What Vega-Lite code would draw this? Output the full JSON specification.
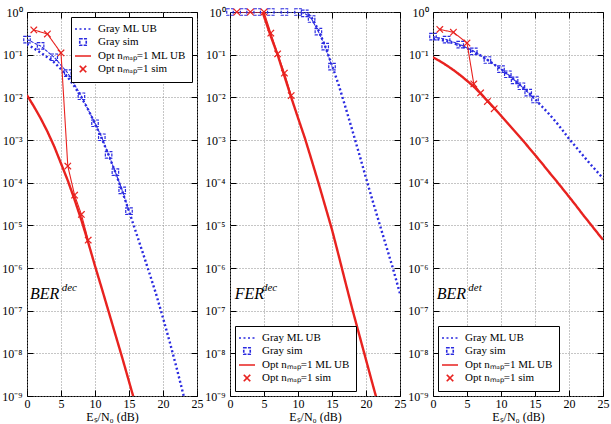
{
  "$schema": "https://vega.github.io/schema/vega-lite/v6.json",
  "padding": {"left": 1, "top": 5, "right": 0, "bottom": 0},
  "autosize": {"type": "pad"},
  "config": {
    "font": "Liberation Serif",
    "view": {"stroke": "black", "strokeWidth": 1},
    "axis": {"tickColor": "black", "labelColor": "black", "titleColor": "black", "titleFontWeight": "normal", "labelFlush": false, "labelOverlap": false, "domain": false},
    "legend": {"padding": 6, "strokeColor": "black", "fillColor": "white", "cornerRadius": 0, "labelColor": "black", "labelLimit": 200,
      "symbolFillColor": "transparent", "symbolSize": 100, "symbolStrokeWidth": 1.6, "labelOffset": 9, "rowPadding": 1, "offset": 5}
  },
  "datasets": {
    "p1": [
      {"series": "Gray ML UB", "x": 0, "y": 0.178}, {"series": "Gray ML UB", "x": 1, "y": 0.141}, {"series": "Gray ML UB", "x": 2, "y": 0.112},
      {"series": "Gray ML UB", "x": 3, "y": 0.0871}, {"series": "Gray ML UB", "x": 4, "y": 0.0661}, {"series": "Gray ML UB", "x": 5, "y": 0.0457},
      {"series": "Gray ML UB", "x": 6, "y": 0.0295}, {"series": "Gray ML UB", "x": 7, "y": 0.0178}, {"series": "Gray ML UB", "x": 8, "y": 0.01},
      {"series": "Gray ML UB", "x": 9, "y": 0.00513}, {"series": "Gray ML UB", "x": 10, "y": 0.0024}, {"series": "Gray ML UB", "x": 11, "y": 0.00107},
      {"series": "Gray ML UB", "x": 12, "y": 4.47e-4}, {"series": "Gray ML UB", "x": 13, "y": 1.74e-4}, {"series": "Gray ML UB", "x": 14, "y": 6.31e-5},
      {"series": "Gray ML UB", "x": 15, "y": 2.14e-5}, {"series": "Gray ML UB", "x": 16, "y": 7.08e-6}, {"series": "Gray ML UB", "x": 17, "y": 2.34e-6},
      {"series": "Gray ML UB", "x": 18, "y": 7.59e-7}, {"series": "Gray ML UB", "x": 19, "y": 2.4e-7}, {"series": "Gray ML UB", "x": 20, "y": 6.76e-8},
      {"series": "Gray ML UB", "x": 21, "y": 1.82e-8}, {"series": "Gray ML UB", "x": 22, "y": 4.57e-9}, {"series": "Gray ML UB", "x": 23, "y": 1.07e-9},
      {"series": "Gray ML UB", "x": 24, "y": 2.3e-10},
      {"series": "Gray sim", "x": 0, "y": 0.226}, {"series": "Gray sim", "x": 2, "y": 0.16}, {"series": "Gray sim", "x": 4, "y": 0.087},
      {"series": "Gray sim", "x": 6, "y": 0.037}, {"series": "Gray sim", "x": 8, "y": 0.0106}, {"series": "Gray sim", "x": 10, "y": 0.00247},
      {"series": "Gray sim", "x": 11, "y": 0.00116}, {"series": "Gray sim", "x": 12, "y": 4.5e-4}, {"series": "Gray sim", "x": 13, "y": 1.76e-4},
      {"series": "Gray sim", "x": 14, "y": 6.6e-5}, {"series": "Gray sim", "x": 15, "y": 2.15e-5},
      {"series": "Opt nₘₐₚ=1 ML UB", "x": 0, "y": 0.0112}, {"series": "Opt nₘₐₚ=1 ML UB", "x": 1, "y": 0.00617}, {"series": "Opt nₘₐₚ=1 ML UB", "x": 2, "y": 0.00324},
      {"series": "Opt nₘₐₚ=1 ML UB", "x": 3, "y": 0.00158}, {"series": "Opt nₘₐₚ=1 ML UB", "x": 4, "y": 7.08e-4}, {"series": "Opt nₘₐₚ=1 ML UB", "x": 5, "y": 2.82e-4},
      {"series": "Opt nₘₐₚ=1 ML UB", "x": 6, "y": 1.12e-4}, {"series": "Opt nₘₐₚ=1 ML UB", "x": 7, "y": 3.98e-5}, {"series": "Opt nₘₐₚ=1 ML UB", "x": 8, "y": 1.32e-5},
      {"series": "Opt nₘₐₚ=1 ML UB", "x": 9, "y": 3.98e-6}, {"series": "Opt nₘₐₚ=1 ML UB", "x": 10, "y": 1.12e-6}, {"series": "Opt nₘₐₚ=1 ML UB", "x": 11, "y": 3.31e-7},
      {"series": "Opt nₘₐₚ=1 ML UB", "x": 12, "y": 9.55e-8}, {"series": "Opt nₘₐₚ=1 ML UB", "x": 13, "y": 2.75e-8}, {"series": "Opt nₘₐₚ=1 ML UB", "x": 14, "y": 7.94e-9},
      {"series": "Opt nₘₐₚ=1 ML UB", "x": 15, "y": 2.19e-9}, {"series": "Opt nₘₐₚ=1 ML UB", "x": 16, "y": 6.03e-10},
      {"series": "Opt nₘₐₚ=1 sim", "x": 1, "y": 0.38}, {"series": "Opt nₘₐₚ=1 sim", "x": 3, "y": 0.305}, {"series": "Opt nₘₐₚ=1 sim", "x": 5, "y": 0.11},
      {"series": "Opt nₘₐₚ=1 sim", "x": 6, "y": 2.45e-4}, {"series": "Opt nₘₐₚ=1 sim", "x": 7, "y": 5.1e-5}, {"series": "Opt nₘₐₚ=1 sim", "x": 8, "y": 1.8e-5},
      {"series": "Opt nₘₐₚ=1 sim", "x": 9, "y": 4.5e-6}
    ],
    "p2": [
      {"series": "Gray ML UB", "x": 10, "y": 1.41}, {"series": "Gray ML UB", "x": 11, "y": 1.05}, {"series": "Gray ML UB", "x": 12, "y": 0.741},
      {"series": "Gray ML UB", "x": 13, "y": 0.38}, {"series": "Gray ML UB", "x": 14, "y": 0.158}, {"series": "Gray ML UB", "x": 15, "y": 0.0562},
      {"series": "Gray ML UB", "x": 16, "y": 0.0191}, {"series": "Gray ML UB", "x": 17, "y": 0.00575}, {"series": "Gray ML UB", "x": 18, "y": 0.00166},
      {"series": "Gray ML UB", "x": 19, "y": 4.68e-4}, {"series": "Gray ML UB", "x": 20, "y": 1.29e-4}, {"series": "Gray ML UB", "x": 21, "y": 3.63e-5},
      {"series": "Gray ML UB", "x": 22, "y": 1.07e-5}, {"series": "Gray ML UB", "x": 23, "y": 3.16e-6}, {"series": "Gray ML UB", "x": 24, "y": 9.33e-7},
      {"series": "Gray ML UB", "x": 25, "y": 2.51e-7},
      {"series": "Gray sim", "x": 0, "y": 1}, {"series": "Gray sim", "x": 2, "y": 1}, {"series": "Gray sim", "x": 4, "y": 1},
      {"series": "Gray sim", "x": 6, "y": 1}, {"series": "Gray sim", "x": 8, "y": 1}, {"series": "Gray sim", "x": 10, "y": 1},
      {"series": "Gray sim", "x": 11, "y": 0.93}, {"series": "Gray sim", "x": 12, "y": 0.686}, {"series": "Gray sim", "x": 13, "y": 0.347},
      {"series": "Gray sim", "x": 14, "y": 0.155}, {"series": "Gray sim", "x": 15, "y": 0.0525},
      {"series": "Opt nₘₐₚ=1 ML UB", "x": 4, "y": 2.24}, {"series": "Opt nₘₐₚ=1 ML UB", "x": 5, "y": 0.794}, {"series": "Opt nₘₐₚ=1 ML UB", "x": 6, "y": 0.269},
      {"series": "Opt nₘₐₚ=1 ML UB", "x": 7, "y": 0.1}, {"series": "Opt nₘₐₚ=1 ML UB", "x": 8, "y": 0.0316}, {"series": "Opt nₘₐₚ=1 ML UB", "x": 9, "y": 0.01},
      {"series": "Opt nₘₐₚ=1 ML UB", "x": 10, "y": 0.00331}, {"series": "Opt nₘₐₚ=1 ML UB", "x": 11, "y": 0.00112}, {"series": "Opt nₘₐₚ=1 ML UB", "x": 12, "y": 3.39e-4},
      {"series": "Opt nₘₐₚ=1 ML UB", "x": 13, "y": 1e-4}, {"series": "Opt nₘₐₚ=1 ML UB", "x": 14, "y": 2.82e-5}, {"series": "Opt nₘₐₚ=1 ML UB", "x": 15, "y": 7.94e-6},
      {"series": "Opt nₘₐₚ=1 ML UB", "x": 16, "y": 1.91e-6}, {"series": "Opt nₘₐₚ=1 ML UB", "x": 17, "y": 4.47e-7}, {"series": "Opt nₘₐₚ=1 ML UB", "x": 18, "y": 1.07e-7},
      {"series": "Opt nₘₐₚ=1 ML UB", "x": 19, "y": 2.75e-8}, {"series": "Opt nₘₐₚ=1 ML UB", "x": 20, "y": 7.08e-9}, {"series": "Opt nₘₐₚ=1 ML UB", "x": 21, "y": 1.82e-9},
      {"series": "Opt nₘₐₚ=1 ML UB", "x": 22, "y": 4.79e-10},
      {"series": "Opt nₘₐₚ=1 sim", "x": 1, "y": 1}, {"series": "Opt nₘₐₚ=1 sim", "x": 3, "y": 1}, {"series": "Opt nₘₐₚ=1 sim", "x": 5, "y": 1},
      {"series": "Opt nₘₐₚ=1 sim", "x": 6, "y": 0.32}, {"series": "Opt nₘₐₚ=1 sim", "x": 7, "y": 0.104}, {"series": "Opt nₘₐₚ=1 sim", "x": 8, "y": 0.037},
      {"series": "Opt nₘₐₚ=1 sim", "x": 9, "y": 0.011}
    ],
    "p3": [
      {"series": "Gray ML UB", "x": 0, "y": 0.24}, {"series": "Gray ML UB", "x": 1, "y": 0.224}, {"series": "Gray ML UB", "x": 2, "y": 0.209},
      {"series": "Gray ML UB", "x": 3, "y": 0.186}, {"series": "Gray ML UB", "x": 4, "y": 0.162}, {"series": "Gray ML UB", "x": 5, "y": 0.141},
      {"series": "Gray ML UB", "x": 6, "y": 0.117}, {"series": "Gray ML UB", "x": 7, "y": 0.0955}, {"series": "Gray ML UB", "x": 8, "y": 0.0759},
      {"series": "Gray ML UB", "x": 9, "y": 0.0589}, {"series": "Gray ML UB", "x": 10, "y": 0.0457}, {"series": "Gray ML UB", "x": 11, "y": 0.0347},
      {"series": "Gray ML UB", "x": 12, "y": 0.0251}, {"series": "Gray ML UB", "x": 13, "y": 0.0182}, {"series": "Gray ML UB", "x": 14, "y": 0.0132},
      {"series": "Gray ML UB", "x": 15, "y": 0.00912}, {"series": "Gray ML UB", "x": 16, "y": 0.00617}, {"series": "Gray ML UB", "x": 17, "y": 0.00417},
      {"series": "Gray ML UB", "x": 18, "y": 0.00275}, {"series": "Gray ML UB", "x": 19, "y": 0.00174}, {"series": "Gray ML UB", "x": 20, "y": 0.00107},
      {"series": "Gray ML UB", "x": 21, "y": 6.92e-4}, {"series": "Gray ML UB", "x": 22, "y": 4.47e-4}, {"series": "Gray ML UB", "x": 23, "y": 2.88e-4},
      {"series": "Gray ML UB", "x": 24, "y": 1.91e-4}, {"series": "Gray ML UB", "x": 25, "y": 1.26e-4},
      {"series": "Gray sim", "x": 0, "y": 0.265}, {"series": "Gray sim", "x": 2, "y": 0.226}, {"series": "Gray sim", "x": 4, "y": 0.172},
      {"series": "Gray sim", "x": 6, "y": 0.12}, {"series": "Gray sim", "x": 8, "y": 0.075}, {"series": "Gray sim", "x": 10, "y": 0.046},
      {"series": "Gray sim", "x": 11, "y": 0.0348}, {"series": "Gray sim", "x": 12, "y": 0.0251}, {"series": "Gray sim", "x": 13, "y": 0.0182},
      {"series": "Gray sim", "x": 14, "y": 0.0129}, {"series": "Gray sim", "x": 15, "y": 0.0089},
      {"series": "Opt nₘₐₚ=1 ML UB", "x": 0, "y": 0.0871}, {"series": "Opt nₘₐₚ=1 ML UB", "x": 1, "y": 0.0708}, {"series": "Opt nₘₐₚ=1 ML UB", "x": 2, "y": 0.0562},
      {"series": "Opt nₘₐₚ=1 ML UB", "x": 3, "y": 0.0437}, {"series": "Opt nₘₐₚ=1 ML UB", "x": 4, "y": 0.0331}, {"series": "Opt nₘₐₚ=1 ML UB", "x": 5, "y": 0.0245},
      {"series": "Opt nₘₐₚ=1 ML UB", "x": 6, "y": 0.0178}, {"series": "Opt nₘₐₚ=1 ML UB", "x": 7, "y": 0.0123}, {"series": "Opt nₘₐₚ=1 ML UB", "x": 8, "y": 0.00832},
      {"series": "Opt nₘₐₚ=1 ML UB", "x": 9, "y": 0.00562}, {"series": "Opt nₘₐₚ=1 ML UB", "x": 10, "y": 0.00372}, {"series": "Opt nₘₐₚ=1 ML UB", "x": 11, "y": 0.00245},
      {"series": "Opt nₘₐₚ=1 ML UB", "x": 12, "y": 0.00162}, {"series": "Opt nₘₐₚ=1 ML UB", "x": 13, "y": 0.00107}, {"series": "Opt nₘₐₚ=1 ML UB", "x": 14, "y": 6.92e-4},
      {"series": "Opt nₘₐₚ=1 ML UB", "x": 15, "y": 4.47e-4}, {"series": "Opt nₘₐₚ=1 ML UB", "x": 16, "y": 2.88e-4}, {"series": "Opt nₘₐₚ=1 ML UB", "x": 17, "y": 1.82e-4},
      {"series": "Opt nₘₐₚ=1 ML UB", "x": 18, "y": 1.17e-4}, {"series": "Opt nₘₐₚ=1 ML UB", "x": 19, "y": 7.41e-5}, {"series": "Opt nₘₐₚ=1 ML UB", "x": 20, "y": 4.68e-5},
      {"series": "Opt nₘₐₚ=1 ML UB", "x": 21, "y": 2.95e-5}, {"series": "Opt nₘₐₚ=1 ML UB", "x": 22, "y": 1.82e-5}, {"series": "Opt nₘₐₚ=1 ML UB", "x": 23, "y": 1.15e-5},
      {"series": "Opt nₘₐₚ=1 ML UB", "x": 24, "y": 7.24e-6}, {"series": "Opt nₘₐₚ=1 ML UB", "x": 25, "y": 4.57e-6},
      {"series": "Opt nₘₐₚ=1 sim", "x": 1, "y": 0.39}, {"series": "Opt nₘₐₚ=1 sim", "x": 3, "y": 0.335}, {"series": "Opt nₘₐₚ=1 sim", "x": 5, "y": 0.188},
      {"series": "Opt nₘₐₚ=1 sim", "x": 6, "y": 0.0206}, {"series": "Opt nₘₐₚ=1 sim", "x": 7, "y": 0.0127}, {"series": "Opt nₘₐₚ=1 sim", "x": 8, "y": 0.008},
      {"series": "Opt nₘₐₚ=1 sim", "x": 9, "y": 0.0054}
    ]
  },
  "hconcat": [
    {
      "width": 170, "height": 384,
      "data": {"name": "p1"},
      "encoding": {
        "x": {"field": "x", "type": "quantitative", "scale": {"domain": [0, 25], "nice": false, "zero": false}, "axis": null},
        "y": {"field": "y", "type": "quantitative", "scale": {"type": "log", "domain": [1e-9, 1], "nice": false}, "axis": null},
        "color": {"field": "series", "type": "nominal", "scale": {"domain": ["Gray ML UB", "Gray sim", "Opt nₘₐₚ=1 ML UB", "Opt nₘₐₚ=1 sim"], "range": ["#2a2ae0", "#2a2ae0", "#e8221f", "#e8221f"]},
          "legend": {"orient": "top-right", "title": null, "labelFont": "Liberation Serif", "labelFontSize": 11}},
        "strokeDash": {"field": "series", "type": "nominal", "scale": {"domain": ["Gray ML UB", "Gray sim", "Opt nₘₐₚ=1 ML UB", "Opt nₘₐₚ=1 sim"], "range": [[2, 2.5], [3, 1.2], [1, 0], [1, 0]]},
          "legend": {"orient": "top-right", "title": null, "labelFont": "Liberation Serif", "labelFontSize": 11}}
      },
      "layer": [
        {
          "transform": [{"filter": "datum.series == 'Gray ML UB' || datum.series == 'Opt nₘₐₚ=1 ML UB'"}],
          "mark": {"type": "line", "clip": true, "strokeWidth": 2.4},
          "encoding": {
            "x": {"field": "x", "type": "quantitative", "scale": {"domain": [0, 25], "nice": false, "zero": false},
              "axis": {"orient": "bottom", "values": [0, 5, 10, 15, 20, 25], "grid": true, "gridColor": "#8c8c8c", "gridDash": [1, 2], "tickSize": -6, "labelPadding": 8, "titlePadding": 2,
                "labelFont": "Liberation Serif", "labelFontSize": 12, "titleFont": "Liberation Serif", "titleFontSize": 12, "title": "Eₛ/N₀ (dB)"}},
            "y": {"field": "y", "type": "quantitative", "scale": {"type": "log", "domain": [1e-9, 1], "nice": false},
              "axis": {"orient": "left", "title": null, "tickSize": -6, "labelPadding": 11, "values": [1e-9, 1e-8, 1e-7, 1e-6, 1e-5, 1e-4, 0.001, 0.01, 0.1, 1],
                "grid": true, "gridColor": "#8c8c8c", "gridDash": [1, 2], "labelFont": "Liberation Serif", "labelFontSize": 12,
                "labelExpr": "'10' + replace(replace(replace(replace(replace(replace(replace(replace(replace(replace(replace('' + round(log(datum.value)/LN10), '-', '⁻'), '0', '⁰'), '1', '¹'), '2', '²'), '3', '³'), '4', '⁴'), '5', '⁵'), '6', '⁶'), '7', '⁷'), '8', '⁸'), '9', '⁹')"}}
          }
        },
        {
          "transform": [{"filter": "datum.series == 'Gray sim' || datum.series == 'Opt nₘₐₚ=1 sim'"}],
          "mark": {"type": "line", "clip": true, "strokeWidth": 1.1}
        },
        {
          "transform": [{"filter": "datum.series == 'Gray sim' || datum.series == 'Opt nₘₐₚ=1 sim'"}],
          "mark": {"type": "point", "filled": false, "opacity": 1, "strokeWidth": 1.2, "size": 100},
          "encoding": {
            "x": {"field": "x", "type": "quantitative", "scale": {"domain": [0, 25], "nice": false, "zero": false},
              "axis": {"orient": "top", "values": [0, 5, 10, 15, 20, 25], "labels": false, "grid": false, "tickSize": -6, "title": null}},
            "y": {"field": "y", "type": "quantitative", "scale": {"type": "log", "domain": [1e-9, 1], "nice": false},
              "axis": {"orient": "right", "values": [1e-9, 1e-8, 1e-7, 1e-6, 1e-5, 1e-4, 0.001, 0.01, 0.1, 1], "labels": false, "grid": false, "tickSize": -6, "title": null}},
            "shape": {"field": "series", "type": "nominal",
              "scale": {"domain": ["Gray ML UB", "Gray sim", "Opt nₘₐₚ=1 ML UB", "Opt nₘₐₚ=1 sim"], "range": ["M-1.6,0H1.6", "M-0.65,-0.65H0.65V0.65H-0.65Z", "M-1.6,0H1.6", "M-0.65,-0.65L0.65,0.65M-0.65,0.65L0.65,-0.65"]},
              "legend": {"orient": "top-right", "title": null, "labelFont": "Liberation Serif", "labelFontSize": 11}}
          }
        },
        {
          "data": {"values": [{"label": "BER", "x": 0.45, "y": 1.87e-7}]},
          "mark": {"type": "text", "align": "left", "baseline": "alphabetic", "font": "Liberation Serif", "fontStyle": "italic", "fontSize": 16},
          "encoding": {"text": {"field": "label"}, "color": {"value": "black"}, "strokeDash": {"value": [1, 0]}}
        },
        {
          "data": {"values": [{"label": "dec", "x": 5.1, "y": 2.83e-7}]},
          "mark": {"type": "text", "align": "left", "baseline": "alphabetic", "font": "Liberation Serif", "fontStyle": "italic", "fontSize": 11},
          "encoding": {"text": {"field": "label"}, "color": {"value": "black"}, "strokeDash": {"value": [1, 0]}}
        }
      ],
      "resolve": {"axis": {"x": "independent", "y": "independent"}}
    },
    {
      "width": 170, "height": 384,
      "data": {"name": "p2"},
      "encoding": {
        "x": {"field": "x", "type": "quantitative", "scale": {"domain": [0, 25], "nice": false, "zero": false}, "axis": null},
        "y": {"field": "y", "type": "quantitative", "scale": {"type": "log", "domain": [1e-9, 1], "nice": false}, "axis": null},
        "color": {"field": "series", "type": "nominal", "scale": {"domain": ["Gray ML UB", "Gray sim", "Opt nₘₐₚ=1 ML UB", "Opt nₘₐₚ=1 sim"], "range": ["#2a2ae0", "#2a2ae0", "#e8221f", "#e8221f"]},
          "legend": {"orient": "bottom-left", "title": null, "labelFont": "Liberation Serif", "labelFontSize": 11}},
        "strokeDash": {"field": "series", "type": "nominal", "scale": {"domain": ["Gray ML UB", "Gray sim", "Opt nₘₐₚ=1 ML UB", "Opt nₘₐₚ=1 sim"], "range": [[2, 2.5], [3, 1.2], [1, 0], [1, 0]]},
          "legend": {"orient": "bottom-left", "title": null, "labelFont": "Liberation Serif", "labelFontSize": 11}}
      },
      "layer": [
        {
          "transform": [{"filter": "datum.series == 'Gray ML UB' || datum.series == 'Opt nₘₐₚ=1 ML UB'"}],
          "mark": {"type": "line", "clip": true, "strokeWidth": 2.4},
          "encoding": {
            "x": {"field": "x", "type": "quantitative", "scale": {"domain": [0, 25], "nice": false, "zero": false},
              "axis": {"orient": "bottom", "values": [0, 5, 10, 15, 20, 25], "grid": true, "gridColor": "#8c8c8c", "gridDash": [1, 2], "tickSize": -6, "labelPadding": 8, "titlePadding": 2,
                "labelFont": "Liberation Serif", "labelFontSize": 12, "titleFont": "Liberation Serif", "titleFontSize": 12, "title": "Eₛ/N₀ (dB)"}},
            "y": {"field": "y", "type": "quantitative", "scale": {"type": "log", "domain": [1e-9, 1], "nice": false},
              "axis": {"orient": "left", "title": null, "tickSize": -6, "labelPadding": 11, "values": [1e-9, 1e-8, 1e-7, 1e-6, 1e-5, 1e-4, 0.001, 0.01, 0.1, 1],
                "grid": true, "gridColor": "#8c8c8c", "gridDash": [1, 2], "labelFont": "Liberation Serif", "labelFontSize": 12,
                "labelExpr": "'10' + replace(replace(replace(replace(replace(replace(replace(replace(replace(replace(replace('' + round(log(datum.value)/LN10), '-', '⁻'), '0', '⁰'), '1', '¹'), '2', '²'), '3', '³'), '4', '⁴'), '5', '⁵'), '6', '⁶'), '7', '⁷'), '8', '⁸'), '9', '⁹')"}}
          }
        },
        {
          "transform": [{"filter": "datum.series == 'Gray sim' || datum.series == 'Opt nₘₐₚ=1 sim'"}],
          "mark": {"type": "line", "clip": true, "strokeWidth": 1.1}
        },
        {
          "transform": [{"filter": "datum.series == 'Gray sim' || datum.series == 'Opt nₘₐₚ=1 sim'"}],
          "mark": {"type": "point", "filled": false, "opacity": 1, "strokeWidth": 1.2, "size": 100},
          "encoding": {
            "x": {"field": "x", "type": "quantitative", "scale": {"domain": [0, 25], "nice": false, "zero": false},
              "axis": {"orient": "top", "values": [0, 5, 10, 15, 20, 25], "labels": false, "grid": false, "tickSize": -6, "title": null}},
            "y": {"field": "y", "type": "quantitative", "scale": {"type": "log", "domain": [1e-9, 1], "nice": false},
              "axis": {"orient": "right", "values": [1e-9, 1e-8, 1e-7, 1e-6, 1e-5, 1e-4, 0.001, 0.01, 0.1, 1], "labels": false, "grid": false, "tickSize": -6, "title": null}},
            "shape": {"field": "series", "type": "nominal",
              "scale": {"domain": ["Gray ML UB", "Gray sim", "Opt nₘₐₚ=1 ML UB", "Opt nₘₐₚ=1 sim"], "range": ["M-1.6,0H1.6", "M-0.65,-0.65H0.65V0.65H-0.65Z", "M-1.6,0H1.6", "M-0.65,-0.65L0.65,0.65M-0.65,0.65L0.65,-0.65"]},
              "legend": {"orient": "bottom-left", "title": null, "labelFont": "Liberation Serif", "labelFontSize": 11}}
          }
        },
        {
          "data": {"values": [{"label": "FER", "x": 0.7, "y": 1.87e-7}]},
          "mark": {"type": "text", "align": "left", "baseline": "alphabetic", "font": "Liberation Serif", "fontStyle": "italic", "fontSize": 16},
          "encoding": {"text": {"field": "label"}, "color": {"value": "black"}, "strokeDash": {"value": [1, 0]}}
        },
        {
          "data": {"values": [{"label": "dec", "x": 4.7, "y": 2.83e-7}]},
          "mark": {"type": "text", "align": "left", "baseline": "alphabetic", "font": "Liberation Serif", "fontStyle": "italic", "fontSize": 11},
          "encoding": {"text": {"field": "label"}, "color": {"value": "black"}, "strokeDash": {"value": [1, 0]}}
        }
      ],
      "resolve": {"axis": {"x": "independent", "y": "independent"}}
    },
    {
      "width": 170, "height": 384,
      "data": {"name": "p3"},
      "encoding": {
        "x": {"field": "x", "type": "quantitative", "scale": {"domain": [0, 25], "nice": false, "zero": false}, "axis": null},
        "y": {"field": "y", "type": "quantitative", "scale": {"type": "log", "domain": [1e-9, 1], "nice": false}, "axis": null},
        "color": {"field": "series", "type": "nominal", "scale": {"domain": ["Gray ML UB", "Gray sim", "Opt nₘₐₚ=1 ML UB", "Opt nₘₐₚ=1 sim"], "range": ["#2a2ae0", "#2a2ae0", "#e8221f", "#e8221f"]},
          "legend": {"orient": "bottom-left", "title": null, "labelFont": "Liberation Serif", "labelFontSize": 11}},
        "strokeDash": {"field": "series", "type": "nominal", "scale": {"domain": ["Gray ML UB", "Gray sim", "Opt nₘₐₚ=1 ML UB", "Opt nₘₐₚ=1 sim"], "range": [[2, 2.5], [3, 1.2], [1, 0], [1, 0]]},
          "legend": {"orient": "bottom-left", "title": null, "labelFont": "Liberation Serif", "labelFontSize": 11}}
      },
      "layer": [
        {
          "transform": [{"filter": "datum.series == 'Gray ML UB' || datum.series == 'Opt nₘₐₚ=1 ML UB'"}],
          "mark": {"type": "line", "clip": true, "strokeWidth": 2.4},
          "encoding": {
            "x": {"field": "x", "type": "quantitative", "scale": {"domain": [0, 25], "nice": false, "zero": false},
              "axis": {"orient": "bottom", "values": [0, 5, 10, 15, 20, 25], "grid": true, "gridColor": "#8c8c8c", "gridDash": [1, 2], "tickSize": -6, "labelPadding": 8, "titlePadding": 2,
                "labelFont": "Liberation Serif", "labelFontSize": 12, "titleFont": "Liberation Serif", "titleFontSize": 12, "title": "Eₛ/N₀ (dB)"}},
            "y": {"field": "y", "type": "quantitative", "scale": {"type": "log", "domain": [1e-9, 1], "nice": false},
              "axis": {"orient": "left", "title": null, "tickSize": -6, "labelPadding": 11, "values": [1e-9, 1e-8, 1e-7, 1e-6, 1e-5, 1e-4, 0.001, 0.01, 0.1, 1],
                "grid": true, "gridColor": "#8c8c8c", "gridDash": [1, 2], "labelFont": "Liberation Serif", "labelFontSize": 12,
                "labelExpr": "'10' + replace(replace(replace(replace(replace(replace(replace(replace(replace(replace(replace('' + round(log(datum.value)/LN10), '-', '⁻'), '0', '⁰'), '1', '¹'), '2', '²'), '3', '³'), '4', '⁴'), '5', '⁵'), '6', '⁶'), '7', '⁷'), '8', '⁸'), '9', '⁹')"}}
          }
        },
        {
          "transform": [{"filter": "datum.series == 'Gray sim' || datum.series == 'Opt nₘₐₚ=1 sim'"}],
          "mark": {"type": "line", "clip": true, "strokeWidth": 1.1}
        },
        {
          "transform": [{"filter": "datum.series == 'Gray sim' || datum.series == 'Opt nₘₐₚ=1 sim'"}],
          "mark": {"type": "point", "filled": false, "opacity": 1, "strokeWidth": 1.2, "size": 100},
          "encoding": {
            "x": {"field": "x", "type": "quantitative", "scale": {"domain": [0, 25], "nice": false, "zero": false},
              "axis": {"orient": "top", "values": [0, 5, 10, 15, 20, 25], "labels": false, "grid": false, "tickSize": -6, "title": null}},
            "y": {"field": "y", "type": "quantitative", "scale": {"type": "log", "domain": [1e-9, 1], "nice": false},
              "axis": {"orient": "right", "values": [1e-9, 1e-8, 1e-7, 1e-6, 1e-5, 1e-4, 0.001, 0.01, 0.1, 1], "labels": false, "grid": false, "tickSize": -6, "title": null}},
            "shape": {"field": "series", "type": "nominal",
              "scale": {"domain": ["Gray ML UB", "Gray sim", "Opt nₘₐₚ=1 ML UB", "Opt nₘₐₚ=1 sim"], "range": ["M-1.6,0H1.6", "M-0.65,-0.65H0.65V0.65H-0.65Z", "M-1.6,0H1.6", "M-0.65,-0.65L0.65,0.65M-0.65,0.65L0.65,-0.65"]},
              "legend": {"orient": "bottom-left", "title": null, "labelFont": "Liberation Serif", "labelFontSize": 11}}
          }
        },
        {
          "data": {"values": [{"label": "BER", "x": 0.55, "y": 1.87e-7}]},
          "mark": {"type": "text", "align": "left", "baseline": "alphabetic", "font": "Liberation Serif", "fontStyle": "italic", "fontSize": 16},
          "encoding": {"text": {"field": "label"}, "color": {"value": "black"}, "strokeDash": {"value": [1, 0]}}
        },
        {
          "data": {"values": [{"label": "det", "x": 5.2, "y": 2.83e-7}]},
          "mark": {"type": "text", "align": "left", "baseline": "alphabetic", "font": "Liberation Serif", "fontStyle": "italic", "fontSize": 11},
          "encoding": {"text": {"field": "label"}, "color": {"value": "black"}, "strokeDash": {"value": [1, 0]}}
        }
      ],
      "resolve": {"axis": {"x": "independent", "y": "independent"}}
    }
  ],
  "spacing": 33,
  "bounds": "flush",
  "resolve": {
    "scale": {"color": "independent", "strokeDash": "independent", "shape": "independent"},
    "legend": {"color": "independent", "strokeDash": "independent", "shape": "independent"}
  }
}
